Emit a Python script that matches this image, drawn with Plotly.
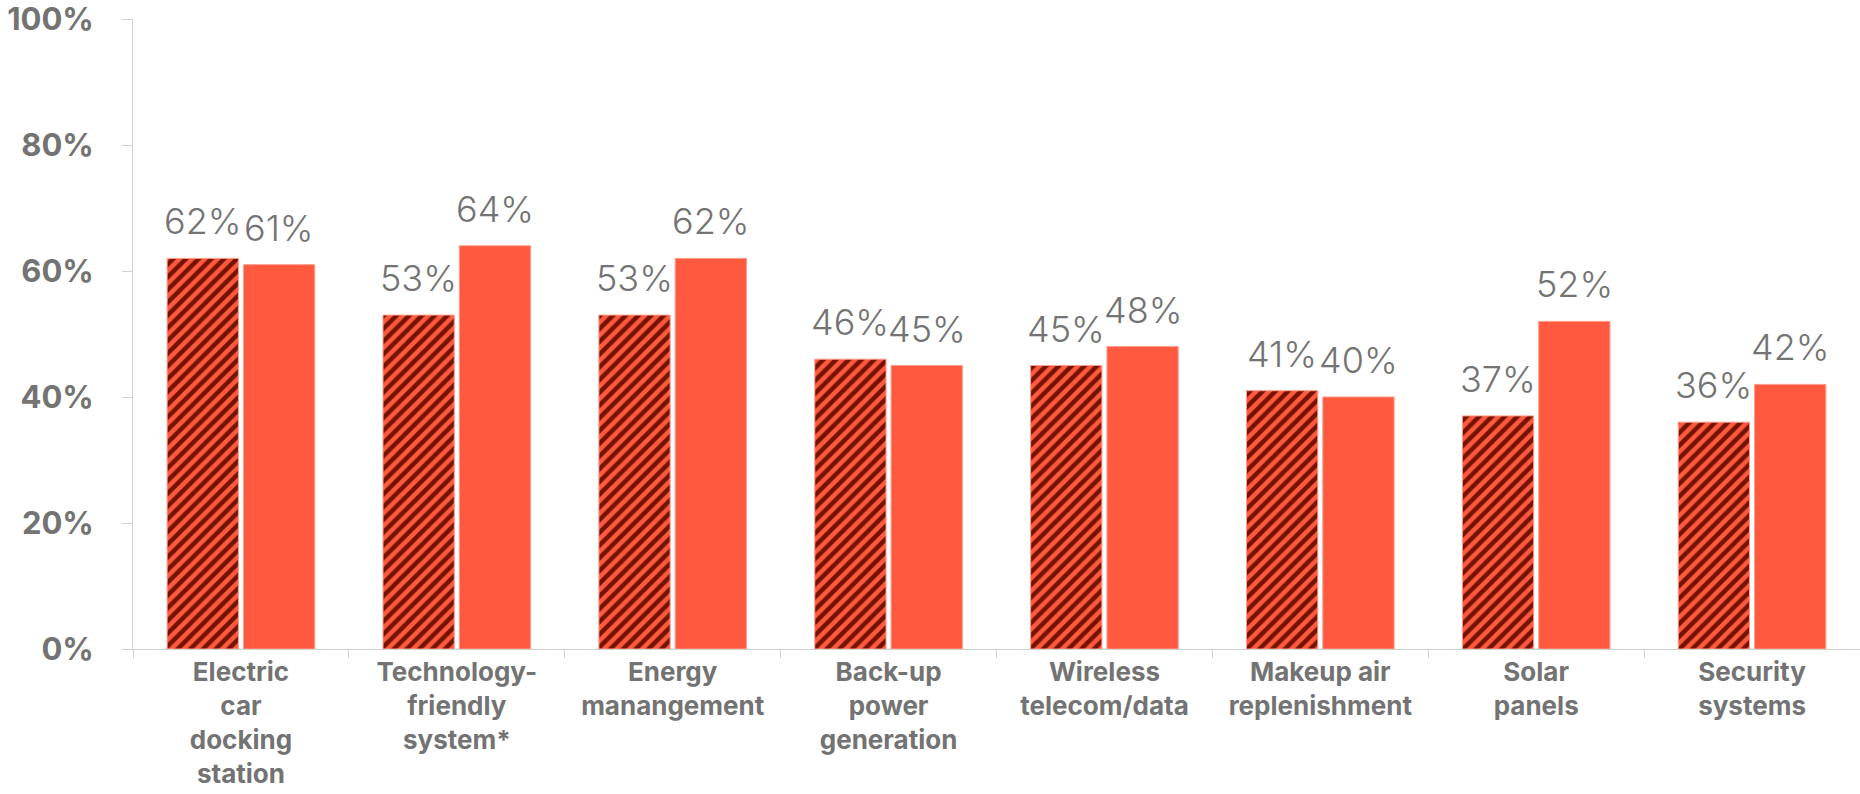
import plotly.graph_objects as go

# Amenity categories (x-axis labels, line-broken as displayed)
categories = [
    "Electric<br>car<br>docking<br>station",
    "Technology-<br>friendly<br>system*",
    "Energy<br>manangement",
    "Back-up<br>power<br>generation",
    "Wireless<br>telecom/data",
    "Makeup air<br>replenishment",
    "Solar<br>panels",
    "Security<br>systems",
]

# Share of respondents (%) for each series
prior_values = [62, 53, 53, 46, 45, 41, 37, 36]
current_values = [61, 64, 62, 45, 48, 40, 52, 42]

y_ticks = [0, 20, 40, 60, 80, 100]

CORAL = "#ff5a3f"
DARK = "#741200"
EDGE = "#ff9c88"
GRAY = "#737373"
AXIS = "#d2d2d2"
FONT = "Inter, Roboto, 'Open Sans', sans-serif"

fig = go.Figure()

fig.add_trace(go.Bar(
    name="Prior",
    x=categories,
    y=prior_values,
    marker=dict(
        color=CORAL,
        line=dict(color=EDGE, width=1),
        pattern=dict(shape="/", fgcolor=DARK, bgcolor=CORAL,
                     size=9, solidity=0.5, fillmode="replace"),
    ),
    hoverinfo="skip",
))

fig.add_trace(go.Bar(
    name="Current",
    x=categories,
    y=current_values,
    marker=dict(color=CORAL, line=dict(color=EDGE, width=1)),
    hoverinfo="skip",
))

# Value labels above each bar
bargap = 0.293
slot_px = (1860 - 133) / len(categories) * (1 - bargap) / 2
annotations = []
for cat, pv, cv in zip(categories, prior_values, current_values):
    for val, side in ((pv, -1), (cv, 1)):
        annotations.append(dict(
            x=cat, y=val, xref="x", yref="y",
            text=f"{val}%",
            showarrow=False,
            xanchor="center", yanchor="bottom",
            xshift=side * slot_px / 2,
            yshift=13,
            font=dict(family=FONT, size=36, color=GRAY, weight=300),
        ))

fig.update_layout(
    width=1860,
    height=794,
    margin=dict(l=133, r=0, t=19, b=145),
    paper_bgcolor="white",
    plot_bgcolor="white",
    barmode="group",
    bargap=bargap,
    bargroupgap=0.066,
    showlegend=False,
    annotations=annotations,
    font=dict(family=FONT, color=GRAY),
)

fig.update_yaxes(
    range=[0, 100],
    tickvals=y_ticks,
    ticktext=[f"{t}%" for t in y_ticks],
    showgrid=False,
    zeroline=False,
    showline=True,
    linecolor=AXIS,
    linewidth=1,
    ticks="outside",
    ticklen=10,
    tickcolor=AXIS,
    ticklabelstandoff=22,
    ticklabeloverflow="allow",
    automargin=False,
    tickfont=dict(family=FONT, size=31, color=GRAY, weight=700),
)

fig.update_xaxes(
    showgrid=False,
    showline=True,
    linecolor=AXIS,
    linewidth=1,
    ticks="outside",
    tickson="boundaries",
    ticklen=8,
    tickcolor=AXIS,
    ticklabelstandoff=0,
    ticklabeloverflow="allow",
    automargin=False,
    tickfont=dict(family=FONT, size=26, color=GRAY, weight=700),
)

fig.write_html("out.html")
